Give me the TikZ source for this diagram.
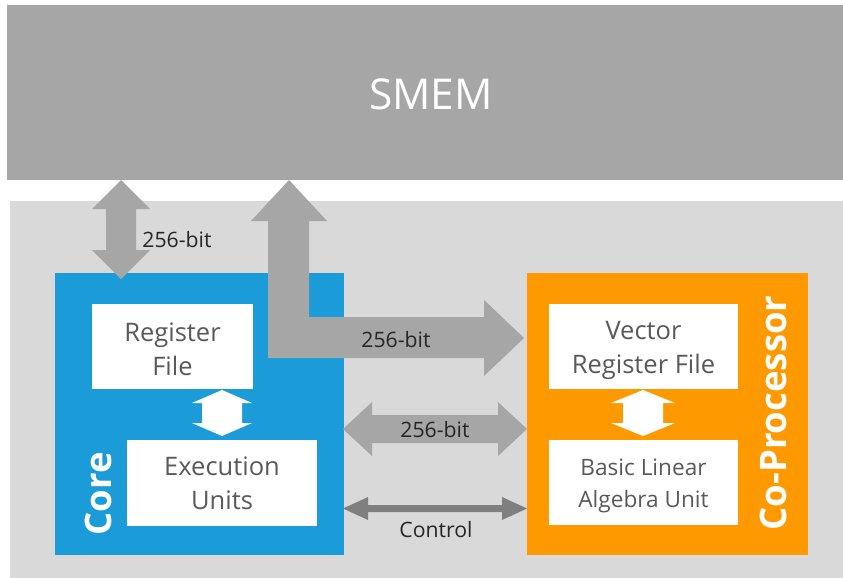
\documentclass[tikz,border=0pt]{standalone}
\usepackage{fontspec}
\setmainfont{Open Sans}
\definecolor{memgrey}{HTML}{A6A6A6}
\definecolor{bggrey}{HTML}{D9D9D9}
\definecolor{coreblue}{HTML}{1B9CD8}
\definecolor{coproorange}{HTML}{FF9900}
\definecolor{ctrlgrey}{HTML}{7F7F7F}
\definecolor{boxtext}{HTML}{595959}
\definecolor{labeltext}{HTML}{262626}
\begin{document}
\begin{tikzpicture}[x=1pt,y=-1pt,
  block/.style={anchor=north west, inner sep=0pt, outer sep=0pt},
  unitbox/.style={block, fill=white},
  unittext/.style={text=boxtext, align=center, inner sep=0pt},
  bigtext/.style={font=\fontsize{25.5}{34}\selectfont},
  smalltext/.style={font=\fontsize{22.6}{32}\selectfont},
  sidelabel/.style={rotate=90, text=white, font=\fontsize{36.5}{36}\selectfont\bfseries},
  buslabel/.style={text=labeltext, font=\fontsize{21.2}{24}\selectfont, inner sep=0pt},
  bus/.style={fill=memgrey},
  ctrl/.style={fill=ctrlgrey},
  link/.style={fill=white}]
\useasboundingbox (0,0) rectangle (843,578);

% shared memory and the tile area below it
\node[block, fill=memgrey, minimum width=836pt, minimum height=175pt] (smem) at (7,5) {};
\node[text=white, font=\fontsize{42.5}{42}\selectfont] (smemlabel) at (431,94) {SMEM};
\node[block, fill=bggrey, minimum width=833pt, minimum height=377pt] (tile) at (10,201) {};

% core and co-processor
\node[block, fill=coreblue, minimum width=289pt, minimum height=282pt] (core) at (55,273) {};
\node[block, fill=coproorange, minimum width=281pt, minimum height=282pt] (copro) at (527,273) {};

% functional units
\node[unitbox, minimum width=161pt, minimum height=85pt] (rf) at (92,304) {};
\node[unitbox, minimum width=190pt, minimum height=86pt] (eu) at (127,440) {};
\node[unitbox, minimum width=189pt, minimum height=85pt] (vrf) at (549,304) {};
\node[unitbox, minimum width=189pt, minimum height=85pt] (blau) at (549,440) {};
\node[unittext, bigtext] (rftext) at ([yshift=-2.5pt]rf.center) {Register\\File};
\node[unittext, bigtext] (eutext) at (eu.center) {Execution\\Units};
\node[unittext, bigtext] (vrftext) at ([yshift=-4pt]vrf.center) {Vector\\Register File};
\node[unittext, smalltext] (blautext) at ([yshift=-3pt]blau.center) {Basic Linear\\Algebra Unit};

% labels on the side of each block
\node[sidelabel] (corelabel) at (98,494) {Core};
\node[sidelabel] (coprolabel) at (773,413) {Co-Processor};

% SMEM <-> core, 256-bit
\fill[bus] (121,180) -- (150,209) -- (136,209) -- (136,250) -- (150,250) -- (121,279)
  -- (92,250) -- (106,250) -- (106,209) -- (92,209) -- cycle;
\node[buslabel] (buscore) at (177,240) {256-bit};

% SMEM <-> co-processor, 256-bit
\fill[bus] (289,180) -- (327,221) -- (309,221) -- (309,317) -- (484,317) -- (484,300)
  -- (524,338) -- (484,376) -- (484,358) -- (268,358) -- (268,221) -- (251,221) -- cycle;
\node[buslabel] (buscopro) at (396,340) {256-bit};

% core <-> co-processor data, 256-bit
\fill[bus] (343,429) -- (372,402) -- (372,415) -- (498,415) -- (498,402) -- (527,429)
  -- (498,456) -- (498,443) -- (372,443) -- (372,456) -- cycle;
\node[buslabel] (busdata) at (435,430) {256-bit};

% core <-> co-processor control
\fill[ctrl] (343,508.5) -- (368,497) -- (368,505) -- (502,505) -- (502,497) -- (527,508.5)
  -- (502,520) -- (502,512) -- (368,512) -- (368,520) -- cycle;
\node[buslabel] (busctrl) at (436,530) {Control};

% register file <-> execution units
\fill[link] (222,390) -- (252,403) -- (242,403) -- (242,423) -- (252,423) -- (222,436)
  -- (192,423) -- (202,423) -- (202,403) -- (192,403) -- cycle;
% vector register file <-> linear algebra unit
\fill[link] (643,390) -- (675,403) -- (663,403) -- (663,423) -- (675,423) -- (643,436)
  -- (611,423) -- (623,423) -- (623,403) -- (611,403) -- cycle;
\end{tikzpicture}
\end{document}
